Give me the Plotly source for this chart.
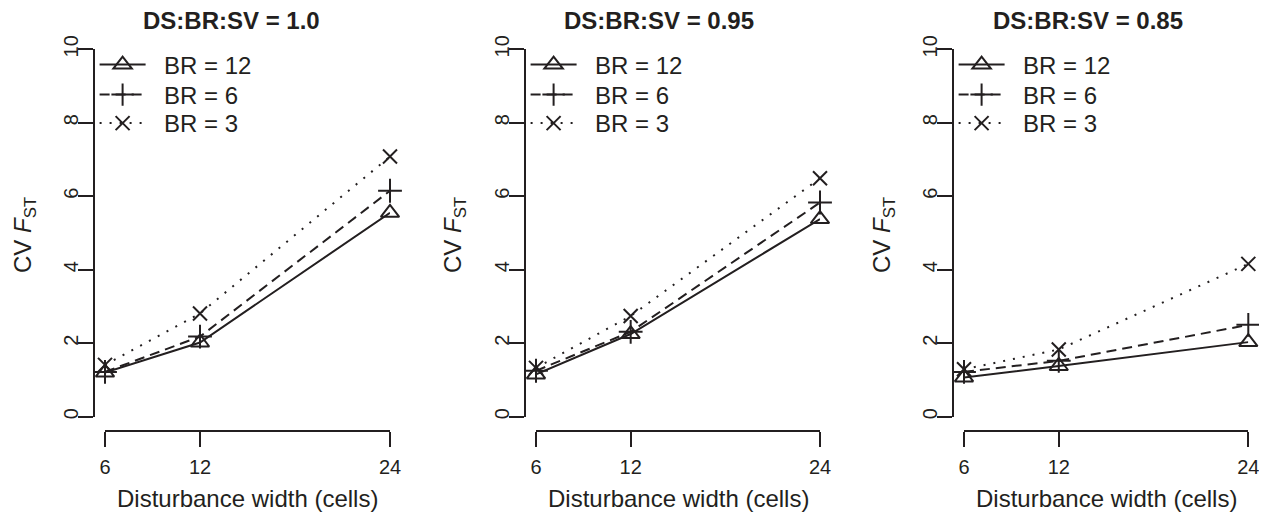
import plotly.graph_objects as go

# ---------------- data ----------------
disturbance_width = [6, 12, 24]
x_tick_values = [6, 12, 24]
y_tick_values = [0, 2, 4, 6, 8, 10]
panel_titles = ["DS:BR:SV = 1.0", "DS:BR:SV = 0.95", "DS:BR:SV = 0.85"]
series_labels = ["BR = 12", "BR = 6", "BR = 3"]

sv100_br12 = [1.20, 2.02, 5.55]
sv100_br6 = [1.22, 2.18, 6.15]
sv100_br3 = [1.41, 2.81, 7.08]

sv095_br12 = [1.15, 2.25, 5.38]
sv095_br6 = [1.25, 2.31, 5.83]
sv095_br3 = [1.33, 2.74, 6.49]

sv085_br12 = [1.07, 1.38, 2.03]
sv085_br6 = [1.22, 1.52, 2.50]
sv085_br3 = [1.29, 1.83, 4.16]

panel_series = [
    [sv100_br12, sv100_br6, sv100_br3],
    [sv095_br12, sv095_br6, sv095_br3],
    [sv085_br12, sv085_br6, sv085_br3],
]

# ---------------- layout constants ----------------
# the page body has an 8px margin, so the figure is drawn 8px smaller and
# every window-pixel target is shifted by OFF
OFF = 8
W, H = 1267 - OFF, 512 - OFF
INK = "#231f20"
FONT = "Liberation Sans, Arial, Helvetica, sans-serif"
NBSP = "\u00a0"


def fx(px):
    return (px - OFF) / W


def fy(py):
    return 1 - (py - OFF) / H


styles = [
    dict(dash="solid", symbol="triangle-up-open", size=16),
    dict(dash="10px,6px", symbol="cross-thin-open", size=17),
    dict(dash="2px,8px", symbol="x-thin-open", size=14),
]

# window-pixel geometry of each panel
panel_px = [
    dict(x0=105.0, x1=390.0, yline=93.6, title_x=231.0, ytitle_x=25.0),
    dict(x0=536.0, x1=820.0, yline=524.6, title_x=659.0, ytitle_x=455.0),
    dict(x0=964.0, x1=1248.3, yline=952.6, title_x=1087.5, ytitle_x=884.0),
]
y_top_px, y_bot_px = 49.3, 416.7      # window rows of y = 10 and y = 0
xaxis_line_px = 431.4                 # window row of the x-axis line
legend_rows_px = [65, 95, 123.5]      # window rows of the legend entries

fig = go.Figure()
annotations = []
layout_axes = {}

for i, (series, geo, ttl) in enumerate(zip(panel_series, panel_px, panel_titles)):
    n = "" if i == 0 else str(i + 1)
    for j, (vals, lab, st) in enumerate(zip(series, series_labels, styles)):
        k = i * 3 + j + 1
        legend_id = "legend" if k == 1 else f"legend{k}"
        fig.add_trace(go.Scatter(
            x=disturbance_width, y=vals, name=NBSP * 2 + lab,
            mode="lines+markers",
            line=dict(color=INK, width=2, dash=st["dash"]),
            marker=dict(symbol=st["symbol"], size=st["size"], color=INK,
                        line=dict(color=INK, width=2)),
            xaxis="x" + n, yaxis="y" + n, legend=legend_id,
            cliponaxis=False, hoverinfo="x+y+name",
        ))
        layout_axes[legend_id] = dict(
            x=fx(geo["yline"] + 1), y=fy(legend_rows_px[j]),
            xanchor="left", yanchor="middle",
            bgcolor="rgba(0,0,0,0)", borderwidth=0,
            font=dict(family=FONT, size=24, color=INK),
            itemwidth=46, tracegroupgap=0,
        )

    layout_axes["xaxis" + n] = dict(
        domain=[fx(geo["x0"]), fx(geo["x1"])], range=[6, 24],
        anchor="free", position=fy(xaxis_line_px),
        automargin=False,
        showline=True, linewidth=2, linecolor=INK,
        ticks="outside", ticklen=15, tickwidth=2, tickcolor=INK,
        tickvals=x_tick_values, showgrid=False, zeroline=False,
        ticklabelstandoff=3,
        tickfont=dict(family=FONT, size=20, color=INK),
    )
    layout_axes["yaxis" + n] = dict(
        domain=[fy(y_bot_px), fy(y_top_px)], range=[0, 10],
        anchor="free", position=fx(geo["yline"]),
        automargin=False,
        showline=True, linewidth=2, linecolor=INK,
        ticks="outside", ticklen=15, tickwidth=2, tickcolor=INK,
        tickvals=y_tick_values, tickangle=-90,
        ticklabelstandoff=-8,
        showgrid=False, zeroline=False,
        tickfont=dict(family=FONT, size=20, color=INK),
    )
    # panel title
    annotations.append(dict(
        text=f"<b>{ttl}</b>", x=fx(geo["title_x"]), y=fy(20),
        xref="paper", yref="paper", xanchor="center", yanchor="middle",
        showarrow=False, font=dict(family=FONT, size=24, color=INK),
    ))
    # x-axis title
    annotations.append(dict(
        text="Disturbance width (cells)",
        x=fx((geo["x0"] + geo["x1"]) / 2), y=fy(498),
        xref="paper", yref="paper", xanchor="center", yanchor="middle",
        showarrow=False, font=dict(family=FONT, size=24, color=INK),
    ))
    # y-axis title
    annotations.append(dict(
        text="CV <i>F</i><sub>ST</sub>", textangle=-90,
        x=fx(geo["ytitle_x"]), y=fy(235),
        xref="paper", yref="paper", xanchor="center", yanchor="middle",
        showarrow=False, font=dict(family=FONT, size=24, color=INK),
    ))

fig.update_layout(
    template="none",
    width=W, height=H,
    margin=dict(l=0, r=0, t=0, b=0, pad=0, autoexpand=False),
    paper_bgcolor="white", plot_bgcolor="white",
    showlegend=True,
    annotations=annotations,
    font=dict(family=FONT, color=INK),
    **layout_axes,
)

fig.write_html("out.html")
